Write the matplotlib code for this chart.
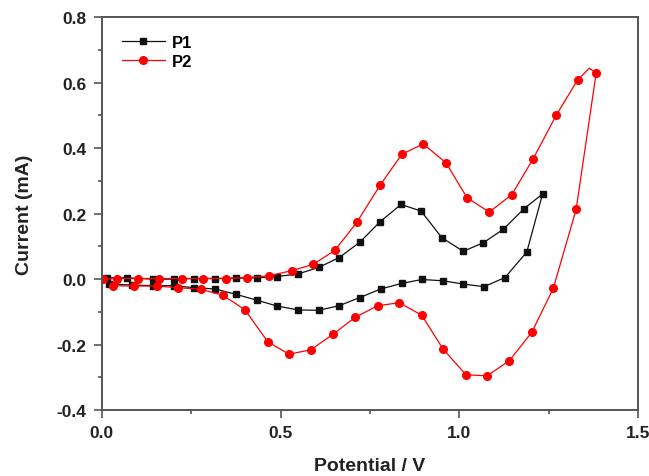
import matplotlib
matplotlib.use("Agg")
import matplotlib.pyplot as plt
from matplotlib.ticker import MultipleLocator

plt.rcParams['font.family'] = ['Liberation Sans', 'DejaVu Sans']
plt.rcParams['font.weight'] = 'bold'

# P1: anodic scan then cathodic scan
p1_x = [0.013, 0.071, 0.143, 0.201, 0.258, 0.317, 0.374, 0.433, 0.490, 0.549, 0.607,
        0.664, 0.722, 0.778, 0.837, 0.893, 0.951, 1.011, 1.067, 1.123, 1.181, 1.233,
        1.189, 1.128, 1.069, 1.011, 0.955, 0.895, 0.839, 0.780, 0.722, 0.664, 0.607,
        0.549, 0.490, 0.433, 0.374, 0.317, 0.258, 0.201, 0.143, 0.085, 0.020]
p1_y = [0.004, 0.004, 0.000, 0.000, 0.002, 0.002, 0.003, 0.004, 0.008, 0.016, 0.036,
        0.066, 0.113, 0.175, 0.228, 0.208, 0.127, 0.085, 0.111, 0.152, 0.215, 0.260,
        0.083, 0.005, -0.023, -0.015, -0.005, -0.001, -0.013, -0.030, -0.056, -0.081, -0.095,
        -0.094, -0.082, -0.064, -0.046, -0.030, -0.026, -0.020, -0.020, -0.018, -0.015]

# P2: anodic scan (incl. unmarked turning point) then cathodic scan
p2_x = [0.004, 0.041, 0.100, 0.160, 0.223, 0.284, 0.347, 0.405, 0.467, 0.531, 0.591,
        0.652, 0.713, 0.778, 0.839, 0.899, 0.963, 1.022, 1.084, 1.147, 1.207, 1.271,
        1.331, 1.364, 1.383,
        1.327, 1.263, 1.203, 1.140, 1.078, 1.019, 0.955, 0.895, 0.832, 0.772, 0.708,
        0.647, 0.584, 0.523, 0.464, 0.400, 0.338, 0.276, 0.214, 0.153, 0.090, 0.030]
p2_y = [0.000, 0.002, 0.002, 0.002, 0.002, 0.002, 0.002, 0.005, 0.010, 0.026, 0.045,
        0.088, 0.173, 0.286, 0.381, 0.413, 0.355, 0.248, 0.205, 0.258, 0.368, 0.500,
        0.608, 0.644, 0.629,
        0.213, -0.028, -0.162, -0.249, -0.295, -0.292, -0.214, -0.110, -0.072, -0.081, -0.117,
        -0.168, -0.216, -0.229, -0.191, -0.093, -0.049, -0.031, -0.026, -0.021, -0.021, -0.020]
p2_marks = [i for i in range(len(p2_x)) if i != 23]

fig = plt.figure(figsize=(6.49, 4.77), dpi=100)
ax = fig.add_axes([0.157, 0.138, 0.826, 0.824])

ax.plot(p1_x, p1_y, color='#111111', lw=0.9, marker='s', ms=4.5, label='P1')
ax.plot(p2_x, p2_y, color='red', lw=0.9, marker='o', ms=5.5, markevery=p2_marks, label='P2')

ax.set_xlim(0.0, 1.5)
ax.set_ylim(-0.4, 0.8)
ax.xaxis.set_major_locator(MultipleLocator(0.5))
ax.xaxis.set_minor_locator(MultipleLocator(0.25))
ax.yaxis.set_major_locator(MultipleLocator(0.2))
ax.yaxis.set_minor_locator(MultipleLocator(0.1))
ax.xaxis.set_major_formatter(plt.FormatStrFormatter('%.1f'))
ax.yaxis.set_major_formatter(plt.FormatStrFormatter('%.1f'))

for s in ax.spines.values():
    s.set_color('#555555')
    s.set_linewidth(1.4)
ax.tick_params(which='both', direction='out', color='#555555', width=1.2,
               top=False, right=False, labelsize=12.5, labelcolor='#222222')
ax.tick_params(which='major', length=6)
ax.tick_params(which='minor', length=3)
ax.tick_params(axis='x', pad=5)
ax.tick_params(axis='y', pad=5)

ax.set_xlabel('Potential / V', fontsize=14, fontweight='bold', labelpad=12, color='#222222')
ax.set_ylabel('Current (mA)', fontsize=14, fontweight='bold', labelpad=17, color='#222222')

ax.legend(loc='upper left', frameon=False, fontsize=12, handlelength=2.6,
          borderaxespad=0.0, labelspacing=0.25, handletextpad=0.4,
          borderpad=0.0, bbox_to_anchor=(0.037, 0.955))

fig.savefig('out.png', dpi=100)
